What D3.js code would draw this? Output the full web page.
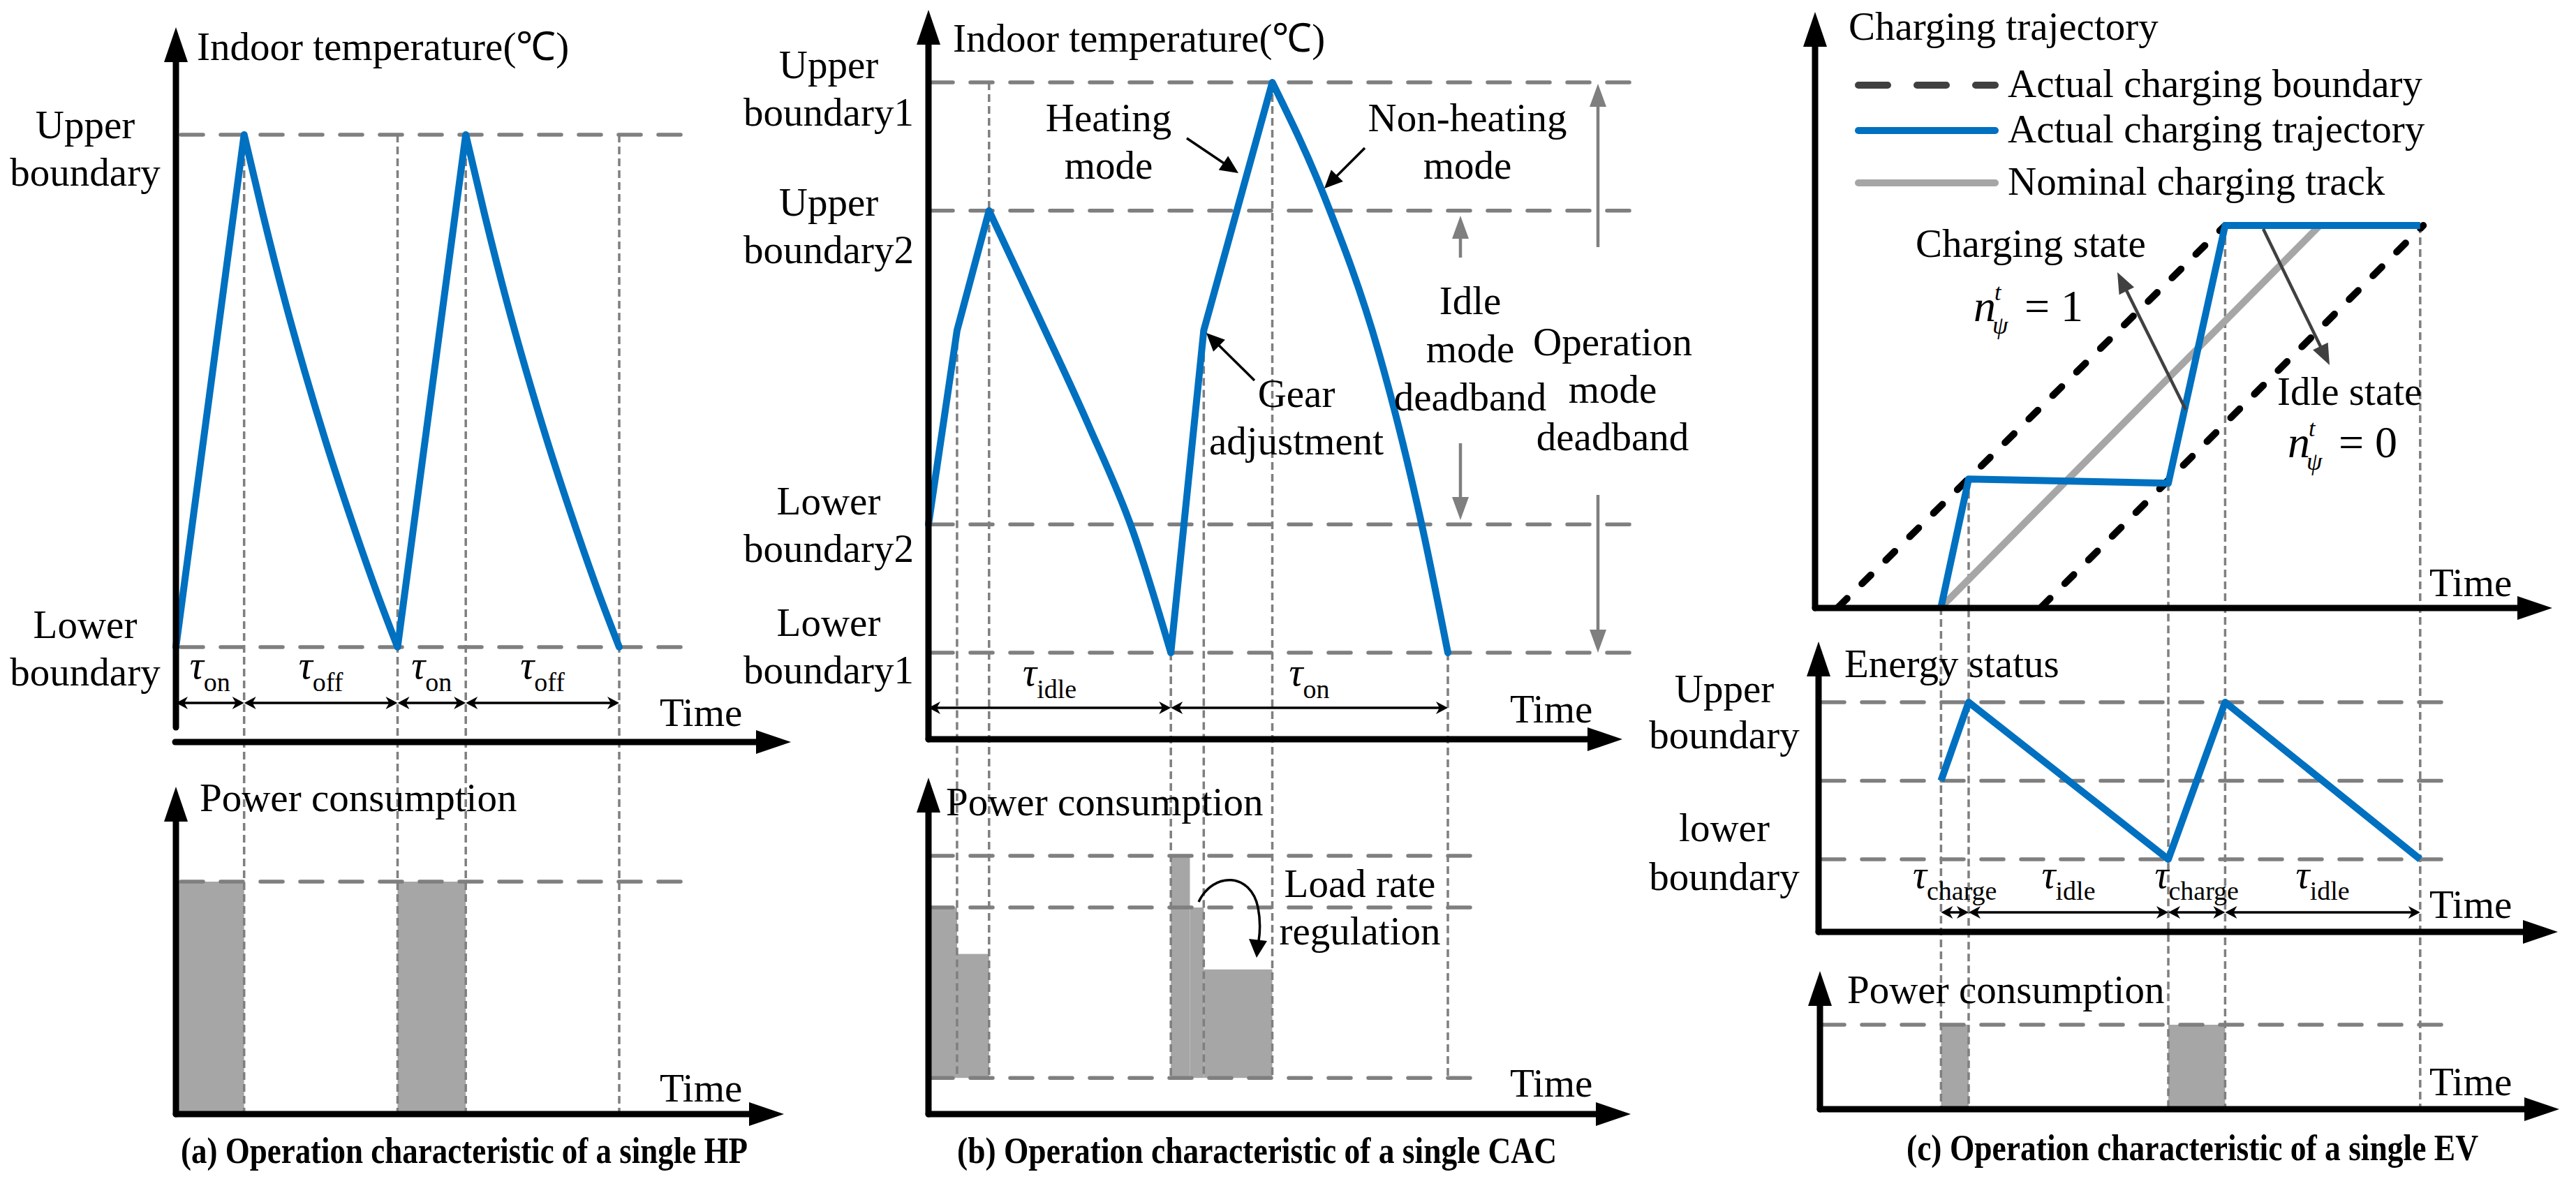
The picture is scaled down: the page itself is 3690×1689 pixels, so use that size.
<!DOCTYPE html>
<html>
<head>
<meta charset="utf-8">
<script src="https://cdn.jsdelivr.net/npm/d3@7"></script>
<style>
body { margin: 0; background: #fff; }
text { font-family: "Liberation Serif", "Times New Roman", serif; }
</style>
</head>
<body>
<script>
// (a) single HP: indoor temperature vs time (min)
var hpTime = [0, 4, 5.1, 6.4, 7.6, 8.8, 10.3, 11.8, 13, 17, 18.1, 19.4, 20.6, 21.8, 23.3, 24.8, 26];
var hpTemp = [18, 22, 21.38, 20.7, 20.13, 19.6, 18.99, 18.42, 18, 22, 21.38, 20.7, 20.13, 19.6, 18.99, 18.42, 18];
var hpKnots = [0, 1, 8, 9, 16];
var hpBounds = [18, 22];
var hpSwitch = [0, 4, 13, 17, 26];
var hpTauText = ["on", "off", "on", "off"];
var hpOnStart = [0, 13], hpOnEnd = [4, 17];
var hpRated = 3;

// (b) single CAC
var cacTime = [0, 1.65, 3.5, 6.41, 9.23, 11.77, 14, 15.9, 19.86, 22.86, 26.01, 28.55, 30];
var cacTemp = [17.8, 20.52, 22.2, 20.69, 19.2, 17.73, 16, 20.52, 24, 22.4, 20.21, 17.73, 16];
var cacKnots = [0, 1, 2, 6, 7, 8, 12];
var cacBounds = [16, 17.8, 22.2, 24];
var cacMarkTime = [1.65, 3.5, 14, 15.9, 19.86, 30];
var cacMarkFrom = [20.52, 24, 16, 20.52, 24, 16];
var cacTauEdge = [0, 14, 30];
var cacTauText = ["idle", "on"];
var cacStepStart = [0, 1.65, 14, 15.1, 15.9];
var cacStepEnd = [1.65, 3.5, 15.1, 15.9, 19.86];
var cacStepPower = [4, 3.1, 5, 4, 2.8];
var cacPowerLevels = [0.7, 4, 5];

// (c) single EV
var evTime = [4.1, 5.0, 11.5, 13.35, 19.7];
var evSoc = [0, 33.6, 32.5, 100, 100];
var evUpperT = [0.75, 13.35], evLowerT = [7.36, 19.8], evNominalT = [4.1, 16.43];
var evBoundSoc = [0, 100];
var evEnergy = [50, 80, 20, 80, 20];
var evEnergyLevels = [20, 50, 80];
var evTauText = ["charge", "idle", "charge", "idle"];
var evChargeStart = [4.1, 11.5], evChargeEnd = [5.0, 13.35];
var evRated = 7;
var evLegend = ["Actual charging boundary", "Actual charging trajectory", "Nominal charging track"];

var blue = "#0070c0", grey = "#7f7f7f", barGrey = "#a6a6a6", dark = "#404040";

var svg = d3.select("body").append("svg").attr("width", 3690).attr("height", 1689);
svg.append("rect").attr("width", 3690).attr("height", 1689).attr("fill", "#fff");

function txt(x, y, s, size, anchor) {
    return svg.append("text").attr("x", x).attr("y", y)
        .attr("font-size", size || 57)
        .attr("text-anchor", anchor || "start")
        .attr("fill", "#000").text(s);
}
// several centred lines in one text element
function lines(x, y, arr, gap) {
    var t = svg.append("text").attr("x", x).attr("y", y).attr("font-size", 57)
        .attr("text-anchor", "middle").attr("fill", "#000");
    arr.forEach(function(s, i) {
        t.append("tspan").attr("x", x).attr("dy", i ? (gap || 68) : 0).text(s);
    });
}
function hDash(y, x1, x2) {
    svg.append("line").attr("x1", x1).attr("x2", x2).attr("y1", y).attr("y2", y)
        .attr("stroke", grey).attr("stroke-width", 5.5)
        .attr("stroke-dasharray", "32,25").attr("stroke-linecap", "round");
}
function vDash(x, y1, y2) {
    svg.append("line").attr("x1", x).attr("x2", x).attr("y1", y1).attr("y2", y2)
        .attr("stroke", grey).attr("stroke-width", 3.5)
        .attr("stroke-dasharray", "11,6");
}
function yAxis(x, yb, ytip) {
    svg.append("line").attr("x1", x).attr("x2", x).attr("y1", yb).attr("y2", ytip + 45)
        .attr("stroke", "#000").attr("stroke-width", 9).attr("stroke-linecap", "round");
    svg.append("path").attr("d", "M" + x + "," + ytip + "L" + (x - 17) + "," + (ytip + 50) + "L" + (x + 17) + "," + (ytip + 50) + "Z");
}
function xAxis(y, x0, xtip) {
    svg.append("line").attr("x1", x0).attr("x2", xtip - 45).attr("y1", y).attr("y2", y)
        .attr("stroke", "#000").attr("stroke-width", 9).attr("stroke-linecap", "round");
    svg.append("path").attr("d", "M" + xtip + "," + y + "L" + (xtip - 50) + "," + (y - 17) + "L" + (xtip - 50) + "," + (y + 17) + "Z");
}
function head(tx, ty, dir) {
    var b = tx - dir * 17, n = tx - dir * 12;
    return "M" + tx + "," + ty + "L" + b + "," + (ty - 9) + "L" + n + "," + ty + "L" + b + "," + (ty + 9) + "Z";
}
function span(x1, x2, y) {
    svg.append("line").attr("x1", x1 + 5).attr("x2", x2 - 5).attr("y1", y).attr("y2", y)
        .attr("stroke", "#000").attr("stroke-width", 3.5);
    svg.append("path").attr("d", head(x1, y, -1) + head(x2, y, 1)).attr("fill", "#000");
}
function tau(x, y, sub, dy) {
    var t = svg.append("text").attr("x", x).attr("y", y).attr("text-anchor", "middle");
    t.append("tspan").attr("font-size", 56).attr("font-style", "italic").text("τ");
    t.append("tspan").attr("font-size", 38).attr("dy", dy || 18).text(sub);
}
function arrow(x1, y1, x2, y2, col, w, hl, hw) {
    var a = Math.atan2(y2 - y1, x2 - x1), c = Math.cos(a), s = Math.sin(a);
    var bx = x2 - hl * c, by = y2 - hl * s;
    svg.append("line").attr("x1", x1).attr("y1", y1).attr("x2", bx + 2 * c).attr("y2", by + 2 * s)
        .attr("stroke", col).attr("stroke-width", w);
    svg.append("path").attr("fill", col)
        .attr("d", "M" + x2 + "," + y2 + "L" + (bx - hw * s) + "," + (by + hw * c) + "L" + (bx + hw * s) + "," + (by - hw * c) + "Z");
}
function series(xs, ys, knots, sx, sy) {
    var parts = [];
    for (var k = 0; k < knots.length - 1; k++) {
        var pts = d3.range(knots[k], knots[k + 1] + 1).map(function(i) { return [xs[i], ys[i]]; });
        var p = d3.line().x(function(d) { return sx(d[0]); }).y(function(d) { return sy(d[1]); })
            .curve(d3.curveMonotoneX)(pts);
        parts.push(k ? p.replace(/^M/, "L") : p);
    }
    svg.append("path").attr("d", parts.join("")).attr("fill", "none").attr("stroke", blue)
        .attr("stroke-width", 10).attr("stroke-linejoin", "round").attr("stroke-linecap", "round");
}
function title(x, y, s, len) {
    txt(x, y, s, 52).attr("font-weight", "bold")
        .attr("textLength", len).attr("lengthAdjust", "spacingAndGlyphs");
}

// ================= (a) =================
var ax = d3.scaleLinear().domain([0, 26]).range([252, 887]);
var ay = d3.scaleLinear().domain(hpBounds).range([927, 193]);
var ap = d3.scaleLinear().domain([0, hpRated]).range([1596, 1263]);

hpOnStart.forEach(function(t0, i) {
    svg.append("rect").attr("x", ax(t0)).attr("width", ax(hpOnEnd[i]) - ax(t0))
        .attr("y", ap(hpRated)).attr("height", ap(0) - ap(hpRated)).attr("fill", barGrey);
});
hDash(ap(hpRated), 259, 978);
hpBounds.forEach(function(b) { hDash(ay(b), 259, 985); });
hpSwitch.slice(1).forEach(function(t) { vDash(ax(t), ay(hpBounds[1]), ap(0)); });
series(hpTime, hpTemp, hpKnots, ax, ay);

yAxis(252, 1042, 39);
xAxis(1063, 251, 1133);
yAxis(252, 1596, 1127);
xAxis(1596, 252, 1123);

txt(282, 86, "Indoor temperature(℃)");
lines(122, 198, ["Upper", "boundary"]);
lines(122, 914, ["Lower", "boundary"]);
txt(945, 1040, "Time");
txt(286, 1162, "Power consumption");
txt(945, 1578, "Time");
for (var i = 0; i < hpTauText.length; i++) {
    span(ax(hpSwitch[i]), ax(hpSwitch[i + 1]), 1007);
    tau((ax(hpSwitch[i]) + ax(hpSwitch[i + 1])) / 2, 972, hpTauText[i]);
}
title(259, 1666, "(a) Operation characteristic of a single HP", 812);

// ================= (b) =================
var bx = d3.scaleLinear().domain([0, 30]).range([1330, 2074]);
var by = d3.scaleLinear().domain([16, 24]).range([935, 118]);
var bp = d3.scaleLinear().domain([0, 5]).range([1596, 1226]);

cacStepStart.forEach(function(t0, i) {
    svg.append("rect").attr("x", bx(t0)).attr("width", bx(cacStepEnd[i]) - bx(t0))
        .attr("y", bp(cacStepPower[i])).attr("height", bp(cacPowerLevels[0]) - bp(cacStepPower[i]))
        .attr("fill", barGrey);
});
cacPowerLevels.forEach(function(p) { hDash(bp(p), 1333, 2108); });
cacBounds.forEach(function(b) { hDash(by(b), 1333, 2336); });
cacMarkTime.forEach(function(t, i) { vDash(bx(t), by(cacMarkFrom[i]), bp(cacPowerLevels[0])); });
series(cacTime, cacTemp, cacKnots, bx, by);

yAxis(1330, 1059, 14);
xAxis(1059, 1330, 2324);
yAxis(1330, 1596, 1114);
xAxis(1596, 1330, 2336);

txt(1365, 74, "Indoor temperature(℃)");
lines(1187, 112, ["Upper", "boundary1"]);
lines(1187, 309, ["Upper", "boundary2"]);
lines(1187, 737, ["Lower", "boundary2"]);
lines(1187, 911, ["Lower", "boundary1"]);
lines(1588, 188, ["Heating", "mode"]);
lines(2102, 188, ["Non-heating", "mode"]);
lines(1857, 583, ["Gear", "adjustment"]);
lines(2106, 450, ["Idle", "mode", "deadband"], 69);
lines(2310, 509, ["Operation", "mode", "deadband"], 68);
arrow(1700, 198, 1774, 248, "#000", 3.5, 26, 12);
arrow(1955, 212, 1897, 270, "#000", 3.5, 26, 12);
arrow(1797, 545, 1728, 477, "#000", 3.5, 26, 12);
arrow(2092, 369, 2092, 309, grey, 4.5, 33, 12);
arrow(2092, 635, 2092, 745, grey, 4.5, 33, 12);
arrow(2289, 354, 2289, 120, grey, 4.5, 33, 12);
arrow(2289, 709, 2289, 935, grey, 4.5, 33, 12);
txt(2163, 1035, "Time");
for (i = 0; i < cacTauText.length; i++) {
    span(bx(cacTauEdge[i]), bx(cacTauEdge[i + 1]), 1014);
    tau((bx(cacTauEdge[i]) + bx(cacTauEdge[i + 1])) / 2, 982, cacTauText[i]);
}
txt(1355, 1168, "Power consumption");
lines(1948, 1285, ["Load rate", "regulation"]);
svg.append("path").attr("d", "M1717,1292 C1738,1248 1792,1250 1802,1300 C1806,1320 1805,1335 1803,1348")
    .attr("fill", "none").attr("stroke", "#000").attr("stroke-width", 3.5);
svg.append("path").attr("d", "M1800,1372 L1789,1345 L1815,1348 Z").attr("fill", "#000");
txt(2163, 1571, "Time");
title(1371, 1666, "(b) Operation characteristic of a single CAC", 859);

// ================= (c) =================
var cx = d3.scaleLinear().domain([0, 24]).range([2600, 3656]);
var cy = d3.scaleLinear().domain([0, 100]).range([870, 323]);
var ce = d3.scaleLinear().domain([20, 80]).range([1231, 1006]);
var cp = d3.scaleLinear().domain([0, evRated]).range([1589, 1468]);

evChargeStart.forEach(function(t0, i) {
    svg.append("rect").attr("x", cx(t0)).attr("width", cx(evChargeEnd[i]) - cx(t0))
        .attr("y", cp(evRated)).attr("height", cp(0) - cp(evRated)).attr("fill", barGrey);
});
hDash(cp(evRated), 2610, 3503);
evEnergyLevels.forEach(function(e) { hDash(ce(e), 2610, 3503); });
evTime.forEach(function(t, i) { vDash(cx(t), cy(evSoc[i]), cp(0)); });

var bline = d3.line().x(function(d) { return cx(d[0]); }).y(function(d) { return cy(d[1]); });
[evUpperT, evLowerT].forEach(function(ts) {
    svg.append("path").attr("d", bline(ts.map(function(t, i) { return [t, evBoundSoc[i]]; })))
        .attr("stroke", "#000").attr("stroke-width", 10).attr("fill", "none")
        .attr("stroke-dasharray", "18,30").attr("stroke-linecap", "round");
});
svg.append("path").attr("d", bline(evNominalT.map(function(t, i) { return [t, evBoundSoc[i]]; })))
    .attr("stroke", barGrey).attr("stroke-width", 10).attr("fill", "none");
svg.append("path").attr("d", bline(evTime.map(function(t, i) { return [t, evSoc[i]]; })))
    .attr("stroke", blue).attr("stroke-width", 10).attr("fill", "none").attr("stroke-linejoin", "round");

var eline = d3.line().x(function(d) { return cx(d[0]); }).y(function(d) { return ce(d[1]); });
svg.append("path").attr("d", eline(evTime.map(function(t, i) { return [t, evEnergy[i]]; })))
    .attr("stroke", blue).attr("stroke-width", 10).attr("fill", "none").attr("stroke-linejoin", "round");

arrow(3131, 587, 3033, 390, dark, 4.5, 30, 12);
arrow(3242, 328, 3337, 523, dark, 4.5, 30, 12);

yAxis(2600, 871, 17);
xAxis(871, 2600, 3656);
yAxis(2605, 1335, 919);
xAxis(1335, 2605, 3664);
yAxis(2607, 1589, 1391);
xAxis(1589, 2607, 3666);

txt(2648, 57, "Charging trajectory");
var legStyle = [
    { col: dark, dash: "42,42" },
    { col: blue, dash: null },
    { col: barGrey, dash: null }
];
var legY = [122, 187, 262];
evLegend.forEach(function(s, i) {
    svg.append("line").attr("x1", 2662).attr("x2", 2858).attr("y1", legY[i]).attr("y2", legY[i])
        .attr("stroke", legStyle[i].col).attr("stroke-width", 10)
        .attr("stroke-dasharray", legStyle[i].dash).attr("stroke-linecap", "round");
    txt(2876, legY[i] + 17, s);
});
txt(2909, 368, "Charging state", 57, "middle");
txt(3262, 580, "Idle state");
function nEq(x, y, v) {
    txt(x, y, "n", 64).attr("font-style", "italic");
    txt(x + 30, y - 30, "t", 34).attr("font-style", "italic");
    txt(x + 27, y + 18, "ψ", 36).attr("font-style", "italic");
    txt(x + 73, y, "= " + v, 64);
}
nEq(2827, 460, "1");
nEq(3277, 655, "0");
txt(3480, 854, "Time");

txt(2642, 970, "Energy status");
lines(2470, 1006, ["Upper", "boundary"], 66);
lines(2470, 1205, ["lower", "boundary"], 70);
for (i = 0; i < evTauText.length; i++) {
    span(cx(evTime[i]), cx(evTime[i + 1]), 1307);
    tau((cx(evTime[i]) + cx(evTime[i + 1])) / 2, 1272, evTauText[i], 17);
}
txt(3480, 1315, "Time");
txt(2646, 1437, "Power consumption");
txt(3480, 1569, "Time");
title(2731, 1662, "(c) Operation characteristic of a single EV", 819);
</script>
</body>
</html>
